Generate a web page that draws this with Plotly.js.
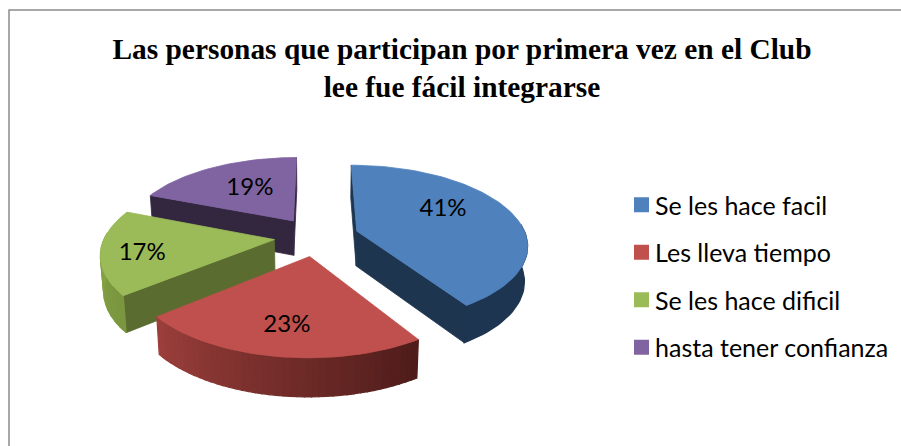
<!DOCTYPE html>
<html>
<head>
<meta charset="utf-8">
<script src="https://cdn.plot.ly/plotly-3.0.1.min.js"></script>
<style>html,body{margin:0;padding:0;background:#fff}#chart{width:901px;height:446px}</style>
</head>
<body>
<div id="chart"></div>
<script>
var titleText = 'Las personas que participan por primera vez en el Club<br>lee fue fácil integrarse';
var categories = ['Se les hace facil', 'Les lleva tiempo', 'Se les hace dificil', 'hasta tener confianza'];
var values = [41, 23, 17, 19];
var topColors = ['#4f81bd', '#c0504d', '#9bbb59', '#8064a2'];
var cutColors = ['#1e3550', '#5a1f1d', '#5a6c30', '#33263f'];
var wallStart = [[29, 53, 80], [78, 28, 26], [122, 150, 62], [51, 38, 63]];
var wallEnd = [[29, 53, 80], [155, 63, 59], [140, 170, 75], [51, 38, 63]];
var wallSteps = [1, 42, 16, 1];
var labelRadius = [0.555, 0.7, 0.765, 0.52];
var labelNudge = [-10, 3, 5, -2];

// projection of the tilted pie
var cx = 316.5, cy = 236.5, kx = 169.5, ky = 78, persp = 0.159, explode = 0.25, depth = 35;
function project(X, Z, low) {
  var den = 1 + persp * Z;
  return [cx + kx * X / den * (low ? 0.985 : 1),
          cy - ky * Z / den + (low ? depth / Math.sqrt(den) : 0)];
}
function rad(d) { return d * Math.PI / 180; }
function rimPoint(a, ex, ez, low) {
  return project(ex + Math.sin(rad(a)), ez + Math.cos(rad(a)), low);
}
function poly(points, color, lw) {
  var pts = points.concat([points[0]]);
  return {
    type: 'scatter', mode: 'lines', fill: 'toself', fillcolor: color,
    x: pts.map(function (p) { return p[0]; }),
    y: pts.map(function (p) { return p[1]; }),
    line: { color: color, width: lw === undefined ? 0.8 : lw }, showlegend: false, hoverinfo: 'skip'
  };
}
function arc(a0, a1, ex, ez, low) {
  var out = [], n = Math.max(2, Math.ceil((a1 - a0) / 2));
  for (var i = 0; i <= n; i++) out.push(rimPoint(a0 + (a1 - a0) * i / n, ex, ez, low));
  return out;
}

var total = values.reduce(function (a, b) { return a + b; }, 0);
var slices = [], acc = 0;
values.forEach(function (v, i) {
  var a0 = acc / total * 360, a1 = (acc + v) / total * 360;
  acc += v;
  var mid = (a0 + a1) / 2;
  slices.push({ i: i, a0: a0, a1: a1, mid: mid,
    ex: explode * Math.sin(rad(mid)), ez: explode * Math.cos(rad(mid)) });
});

var traces = [];
[3, 2, 0, 1].forEach(function (k) {
  var s = slices[k];
  var apexTop = project(s.ex, s.ez, false), apexLow = project(s.ex, s.ez, true);
  var midRim = rimPoint(s.mid, s.ex, s.ez, false);
  [s.a0, s.a1].forEach(function (a) {
    var rim = rimPoint(a, s.ex, s.ez, false);
    var vx = rim[0] - apexTop[0], vy = rim[1] - apexTop[1];
    var inner = vx * (midRim[1] - apexTop[1]) - vy * (midRim[0] - apexTop[0]);
    if (vx * inner < 0) {
      traces.push(poly([apexTop, rim, rimPoint(a, s.ex, s.ez, true), apexLow], cutColors[k]));
    }
  });
  var n = wallSteps[k], span = (s.a1 - s.a0) / n;
  for (var j = 0; j < n; j++) {
    var a = Math.max(s.a0 + j * span, 85), b = Math.min(s.a0 + (j + 1) * span, 275);
    if (b <= a) continue;
    var t = n > 1 ? j / (n - 1) : 0;
    var c = wallStart[k].map(function (w, m) { return Math.round(w + (wallEnd[k][m] - w) * t); });
    var upper = arc(a, b, s.ex, s.ez, false);
    var lower = arc(a, b, s.ex, s.ez, true).reverse();
    traces.push(poly(upper.concat(lower), 'rgb(' + c.join(',') + ')', 1.2));
  }
  traces.push(poly([apexTop].concat(arc(s.a0, s.a1, s.ex, s.ez, false)), topColors[k]));
});

var labelPts = slices.map(function (s, i) {
  var r = labelRadius[i];
  var p = project(s.ex + r * Math.sin(rad(s.mid)), s.ez + r * Math.cos(rad(s.mid)), false);
  return [p[0], p[1] + labelNudge[i]];
});
traces.push({
  type: 'scatter', mode: 'text', showlegend: false, hoverinfo: 'skip',
  x: labelPts.map(function (p) { return p[0]; }),
  y: labelPts.map(function (p) { return p[1]; }),
  text: values.map(function (v) { return v + '%'; }),
  textposition: 'middle center',
  textfont: { family: 'Lato, sans-serif', size: 24, color: '#000' }
});

categories.forEach(function (name, i) {
  traces.push({
    type: 'scatter', mode: 'markers', name: name, legendgroup: 'g' + i,
    x: [null], y: [null],
    marker: { symbol: 'square', size: 15, color: topColors[i] }
  });
});

var layout = {
  width: 901, height: 446,
  margin: { l: 0, r: 0, t: 0, b: 0 },
  paper_bgcolor: '#fff', plot_bgcolor: '#fff',
  title: { text: titleText, x: 462 / 901, xanchor: 'center', y: 1 - 59 / 446, yanchor: 'top',
           font: { family: '"Liberation Serif", serif', size: 29.4, color: '#000', weight: 700 } },
  xaxis: { visible: false, range: [0, 901], fixedrange: true },
  yaxis: { visible: false, range: [446, 0], fixedrange: true },
  legend: { x: 615 / 901, xanchor: 'left', y: 1 - 182 / 446, yanchor: 'top',
            bgcolor: 'rgba(0,0,0,0)', traceorder: 'grouped', tracegroupgap: 12,
            font: { family: 'Lato, sans-serif', size: 25, color: '#000' } },
  shapes: [{ type: 'path', xref: 'x', yref: 'y', path: 'M9,446 L9,10 L901,10',
             line: { color: '#8c8c8c', width: 1.5 } }]
};

Plotly.newPlot('chart', traces, layout, { displayModeBar: false, staticPlot: true }).then(function (gd) {
  gd.querySelectorAll('.legend .legendpoints path').forEach(function (p) {
    p.setAttribute('transform', 'translate(26.5,0)');
  });
});
</script>
</body>
</html>
